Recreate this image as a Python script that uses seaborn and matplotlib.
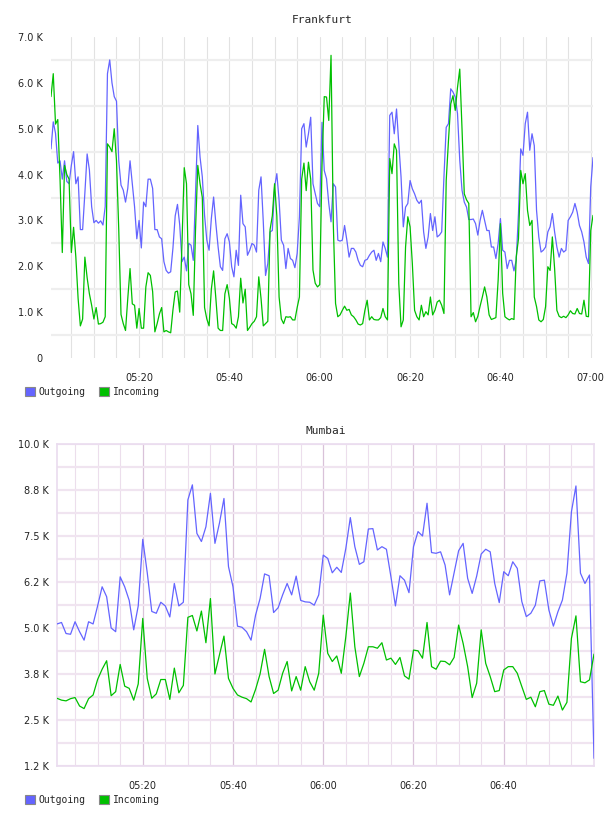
import numpy as np
import pandas as pd
import seaborn as sns
import matplotlib.pyplot as plt
import matplotlib.dates as mdates
from matplotlib.patches import Patch
from matplotlib.ticker import FixedLocator, FuncFormatter

# Frankfurt, one sample every 30 s from 05:00:30, values in K
fra_out = [
    4.56, 5.15, 4.9, 4.25, 4.3, 3.9, 4.3, 3.85, 3.8, 4.2,
    4.5, 3.8, 3.95, 2.8, 2.8, 3.6, 4.45, 4.1, 3.3, 2.95,
    3.0, 2.94, 2.99, 2.9, 3.3, 6.2, 6.5, 6.0, 5.7, 5.6,
    4.3, 3.77, 3.66, 3.4, 3.7, 4.3, 3.8, 3.3, 2.6, 3.0,
    2.4, 3.4, 3.3, 3.9, 3.9, 3.7, 2.8, 2.8, 2.64, 2.6,
    2.1, 1.91, 1.85, 1.88, 2.4, 3.1, 3.35, 2.9, 2.1, 2.2,
    1.9,
    2.5, 2.46, 2.13, 3.58, 5.07, 4.38, 3.95, 3.11, 2.57, 2.35,
    3.04, 3.51, 2.93, 2.42, 1.99, 1.91, 2.6, 2.71, 2.53, 1.99,
    1.77, 2.35, 2.02, 3.55, 2.93, 2.86, 2.24, 2.35, 2.5, 2.46,
    2.31, 3.66, 3.95, 2.97, 1.8, 2.06, 2.75, 2.78, 3.73, 4.02,
    3.44, 2.57, 2.46, 1.95, 2.39, 2.17, 2.13, 1.97, 2.28, 3.08,
    5.0, 5.11, 4.6, 4.89, 5.25, 3.8, 3.58, 3.37, 3.3, 5.14,
    4.09,
    3.91, 3.37, 2.97, 3.8, 3.73, 2.57, 2.55, 2.57, 2.89, 2.57,
    2.2, 2.39, 2.39, 2.31, 2.13, 2.02, 1.99, 2.13, 2.15, 2.24,
    2.31, 2.35, 2.13, 2.28, 2.1, 2.53, 2.39, 2.2, 5.29, 5.36,
    4.89, 5.43, 4.67, 3.95, 2.86, 3.29, 3.37, 3.87, 3.69, 3.58,
    3.44, 3.37, 3.44, 2.75, 2.39, 2.64, 3.15, 2.78, 3.08, 2.64,
    2.68, 2.75, 3.95, 5.03, 5.11, 5.87, 5.8, 5.69, 5.33, 4.31,
    3.66,
    3.4, 3.29, 3.02, 3.02, 3.03, 2.93, 2.68, 3.0, 3.22, 3.0,
    2.78, 2.78, 2.42, 2.42, 2.17, 2.5, 3.04, 2.35, 2.31, 1.95,
    2.13, 2.13, 1.9, 2.13, 3.15, 4.56, 4.42, 5.11, 5.36, 4.53,
    4.89, 4.63, 3.22, 2.64, 2.31, 2.35, 2.42, 2.75, 2.86, 3.15,
    2.75, 2.42, 2.2, 2.39, 2.31, 2.35, 3.0, 3.08, 3.18, 3.37,
    3.18, 2.89, 2.75, 2.53, 2.2, 2.06, 3.73, 4.37,
]
fra_in = [
    5.7, 6.2, 5.1, 5.2, 3.9, 2.3, 4.2, 4.0, 3.9, 2.3,
    2.85, 2.2, 1.3, 0.7, 0.85, 2.2, 1.75, 1.4, 1.15, 0.85,
    1.1, 0.74, 0.75, 0.78, 0.9, 4.67, 4.6, 4.5, 5.0, 4.3,
    2.8, 0.95, 0.75, 0.6, 1.3, 1.95, 1.18, 1.15, 0.65, 1.08,
    0.65, 0.65, 1.55, 1.86, 1.8, 1.45, 0.57, 0.75, 0.96, 1.1,
    0.57, 0.6, 0.57, 0.55, 1.05, 1.44, 1.46, 1.0, 2.5, 4.15,
    3.8,
    1.6, 1.4, 0.93, 2.8, 4.2, 3.8, 3.5, 1.1, 0.85, 0.7,
    1.5, 1.9, 1.3, 0.65, 0.6, 0.6, 1.4, 1.6, 1.3, 0.75,
    0.72, 0.65, 0.9, 1.74, 1.2, 1.5, 0.6, 0.67, 0.75, 0.8,
    0.9, 1.77, 1.3, 0.7, 0.75, 0.8, 2.8, 3.1, 3.8, 3.1,
    1.33, 0.85, 0.75, 0.9, 0.89, 0.9, 0.83, 0.83, 1.1, 1.33,
    3.9, 4.25, 3.65, 4.27, 3.9, 1.92, 1.63, 1.55, 1.6, 4.2,
    5.7,
    5.69, 5.18, 6.6, 2.93, 1.19, 0.9, 0.94, 1.04, 1.13, 1.04,
    1.06, 0.94, 0.9, 0.83, 0.74, 0.72, 0.75, 1.04, 1.26, 0.83,
    0.9, 0.84, 0.83, 0.83, 0.88, 1.08, 0.9, 0.83, 4.35, 4.02,
    4.67, 4.53, 1.62, 0.68, 0.83, 2.42, 3.08, 2.86, 2.06, 1.04,
    0.9, 0.83, 1.15, 0.9, 1.01, 0.94, 1.33, 0.94, 1.04, 1.22,
    1.26, 1.15, 0.97, 3.87, 4.74, 5.54, 5.72, 5.4, 5.9, 6.3,
    5.0,
    3.58, 3.45, 3.37, 0.9, 0.99, 0.79, 0.91, 1.13, 1.33, 1.55,
    1.33, 0.94, 0.84, 0.86, 0.88, 1.7, 2.93, 1.41, 0.9, 0.86,
    0.83, 0.86, 0.84, 2.2, 2.6, 4.09, 3.8, 4.02, 3.22, 2.89,
    3.0, 1.33, 1.12, 0.83, 0.79, 0.84, 1.12, 1.99, 1.91, 2.64,
    1.95, 1.04, 0.91, 0.88, 0.91, 0.88, 0.94, 1.03, 0.97, 0.96,
    1.08, 0.97, 0.96, 1.26, 0.91, 0.9, 2.78, 3.11,
]

# Mumbai, one sample a minute from 05:01, values in K
mum_out = [
    5.11, 5.15, 4.85, 4.83, 5.17, 4.9, 4.67, 5.17, 5.11, 5.6,
    6.12, 5.85, 5.0, 4.9, 6.39, 6.12, 5.75, 4.95, 5.6, 7.41,
    6.5, 5.45, 5.4, 5.7, 5.6, 5.3, 6.21, 5.6, 5.7, 8.48,
    8.89, 7.57, 7.35, 7.75, 8.66, 7.3, 7.85, 8.52, 6.67, 6.12,
    5.05, 5.02, 4.9, 4.67, 5.35, 5.8, 6.47, 6.42, 5.42, 5.55,
    5.9, 6.21, 5.9, 6.41, 5.75, 5.71, 5.7, 5.62, 5.9, 6.98,
    6.89, 6.5, 6.65, 6.51, 7.16, 8.0, 7.21, 6.73, 6.8, 7.69,
    7.7, 7.12, 7.21, 7.14, 6.39, 5.6, 6.42, 6.3, 5.96, 7.21,
    7.62, 7.5, 8.39, 7.05, 7.03, 7.07, 6.71, 5.9, 6.5, 7.1,
    7.3, 6.35, 5.94, 6.41, 7.01, 7.14, 7.07, 6.21, 5.69, 6.53,
    6.42, 6.8, 6.62, 5.72, 5.31, 5.4, 5.62, 6.28, 6.3, 5.49,
    5.05, 5.44, 5.76, 6.49, 8.16, 8.86, 6.49, 6.21, 6.44, 1.46,
]
mum_in = [
    3.09, 3.04, 3.02, 3.08, 3.11, 2.88, 2.81, 3.08, 3.18, 3.6,
    3.88, 4.11, 3.16, 3.27, 4.01, 3.42, 3.36, 3.04, 3.48, 5.26,
    3.63, 3.09, 3.21, 3.6, 3.6, 3.06, 3.91, 3.24, 3.44, 5.29,
    5.34, 4.92, 5.46, 4.6, 5.8, 3.75, 4.27, 4.78, 3.63, 3.36,
    3.18, 3.12, 3.08, 2.99, 3.33, 3.75, 4.42, 3.68, 3.22, 3.31,
    3.77, 4.09, 3.29, 3.68, 3.31, 3.95, 3.54, 3.31, 3.77, 5.35,
    4.31, 4.09, 4.24, 3.77, 4.76, 5.95, 4.49, 3.68, 4.04, 4.49,
    4.49, 4.45, 4.6, 4.13, 4.18, 4.01, 4.2, 3.7, 3.61, 4.4,
    4.38, 4.18, 5.15, 3.95, 3.88, 4.1, 4.09, 4.0, 4.2, 5.08,
    4.58, 3.95, 3.11, 3.5, 4.95, 4.04, 3.68, 3.27, 3.3, 3.86,
    3.95, 3.95, 3.77, 3.41, 3.06, 3.12, 2.86, 3.27, 3.3, 2.93,
    2.9, 3.15, 2.77, 2.98, 4.72, 5.33, 3.54, 3.51, 3.59, 4.29,
]

series_names = ["Outgoing", "Incoming"]
colors = {"Outgoing": "#6464ff", "Incoming": "#00c000"}

fra_time = pd.date_range("2024-01-01 05:00:30", periods=len(fra_out), freq="30s")
mum_time = pd.date_range("2024-01-01 05:01:00", periods=len(mum_out), freq="1min")


def to_long(times, out_vals, in_vals):
    parts = []
    for name, vals in zip(series_names, [out_vals, in_vals]):
        parts.append(pd.DataFrame({"time": times, "value": np.array(vals) * 1000, "series": name}))
    return pd.concat(parts, ignore_index=True)


fra_df = to_long(fra_time, fra_out, fra_in)
mum_df = to_long(mum_time, mum_out, mum_in)

sns.set_style("white")
plt.rcParams["font.family"] = ["DejaVu Sans"]

fig = plt.figure(figsize=(6.08, 8.16), dpi=100)
ax1 = fig.add_axes([51 / 608, 1 - 358 / 816, 542 / 608, 321 / 816])
ax2 = fig.add_axes([57 / 608, 1 - 766 / 816, 537 / 608, 322 / 816])

mono = "DejaVu Sans Mono"

for ax, df in [(ax1, fra_df), (ax2, mum_df)]:
    sns.lineplot(data=df, x="time", y="value", hue="series", palette=colors,
                 estimator=None, linewidth=0.9, legend=False, ax=ax, zorder=3)
    ax.set_xlabel("")
    ax.set_ylabel("")
    ax.xaxis.set_major_formatter(mdates.DateFormatter("%H:%M"))
    ax.xaxis.set_minor_locator(mdates.MinuteLocator(byminute=range(0, 60, 5)))
    ax.tick_params(which="both", length=0, labelsize=7, colors="#222222")
    ax.tick_params(axis="x", pad=11)
    ax.tick_params(axis="y", pad=6)

# Frankfurt
ax1.set_xlim(fra_time[0], fra_time[-1])
ax1.xaxis.set_major_locator(mdates.MinuteLocator(byminute=[0, 20, 40]))
ax1.set_ylim(0, 7000)
ax1.set_yticks(np.arange(0, 7001, 1000))
ax1.yaxis.set_minor_locator(FixedLocator(np.arange(500, 7000, 1000)))
ax1.yaxis.set_major_formatter(FuncFormatter(lambda v, p: "0" if v == 0 else f"{v / 1000:.1f} K"))
ax1.grid(axis="x", which="both", color="#e2e2e2", linewidth=0.8)
ax1.grid(axis="y", which="minor", color="#eeeeee", linewidth=1.6)
ax1.grid(axis="y", which="major", visible=False)
for s in ax1.spines.values():
    s.set_visible(False)
ax1.set_title("Frankfurt", fontfamily=mono, fontsize=8, pad=10)

# Mumbai
ax2.set_xlim(mum_time[0], mum_time[-1])
mum_ticks = pd.to_datetime(["2024-01-01 05:20", "2024-01-01 05:40", "2024-01-01 06:00",
                            "2024-01-01 06:20", "2024-01-01 06:40"])
ax2.set_xticks(mdates.date2num(mum_ticks))
ax2.set_ylim(1250, 10000)
ax2.set_yticks(np.arange(1250, 10001, 1250))
ax2.yaxis.set_minor_locator(FixedLocator(np.arange(1875, 10000, 1250)))
ax2.yaxis.set_major_formatter(FuncFormatter(lambda v, p: f"{v / 1000:.1f} K"))
ax2.grid(axis="x", which="minor", color="#ecdeec", linewidth=0.8)
ax2.grid(axis="x", which="major", color="#d9c2d9", linewidth=0.9)
ax2.grid(axis="y", which="both", color="#f0e4f0", linewidth=1.6)
for s in ax2.spines.values():
    s.set_color("#eadcef")
    s.set_linewidth(1.2)
ax2.set_title("Mumbai", fontfamily=mono, fontsize=8, pad=7)

handles = [Patch(facecolor=colors[n], edgecolor="#888888", linewidth=0.8, label=n) for n in series_names]
for y in [1 - 392 / 816, 1 - 800 / 816]:
    fig.legend(handles=handles, loc="center left", bbox_to_anchor=(20 / 608, y),
               ncol=2, frameon=False, handlelength=1.0, handleheight=1.0,
               handletextpad=0.4, columnspacing=1.4, borderpad=0,
               prop={"family": mono, "size": 7})

fig.savefig("out.png", dpi=100)
